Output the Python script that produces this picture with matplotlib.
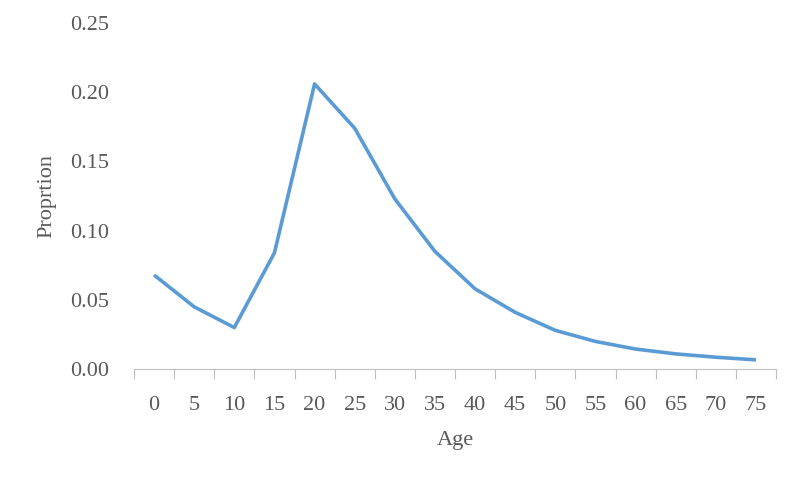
import matplotlib
matplotlib.use("Agg")
import matplotlib.pyplot as plt
import numpy as np

ages = [0, 5, 10, 15, 20, 25, 30, 35, 40, 45, 50, 55, 60, 65, 70, 75]
proportion = [0.068, 0.045, 0.030, 0.084, 0.206, 0.174, 0.123, 0.085, 0.058,
              0.041, 0.028, 0.020, 0.0145, 0.011, 0.0086, 0.0067]
yticks = [0.00, 0.05, 0.10, 0.15, 0.20, 0.25]

plt.rcParams['font.family'] = ['Liberation Serif', 'DejaVu Serif']
txt = '#595959'

fig = plt.figure(figsize=(8, 4.8), dpi=100)
ax = fig.add_axes([0.1675, 0.231, 0.8025, 0.721])
ax.plot(ages, proportion, color='#5B9BD5', lw=2.6, solid_joinstyle='round', solid_capstyle='butt')

ax.set_xlim(-2.5, 77.5)
ax.set_ylim(0, 0.25)
ax.set_yticks(yticks)
ax.set_yticklabels([f"{v:.2f}" for v in yticks])
ax.set_xticks(ages)
ax.set_xticklabels([str(a) for a in ages])
ax.set_xticks([a - 2.5 for a in ages] + [77.5], minor=True)
ax.tick_params(axis='x', which='major', length=0, pad=19, labelsize=16, labelcolor=txt)
ax.tick_params(axis='x', which='minor', length=7, width=0.8, color='#BFBFBF', direction='out')
ax.tick_params(axis='y', length=0, pad=18, labelsize=16, labelcolor=txt)

for s in ['top', 'right', 'left']:
    ax.spines[s].set_visible(False)
ax.spines['bottom'].set_color('#BFBFBF')
ax.spines['bottom'].set_linewidth(0.8)

ax.set_xlabel('Age', fontsize=16, color=txt, labelpad=12)
ax.set_ylabel('Proprtion', fontsize=16, color=txt, labelpad=10)

fig.savefig('out.png', dpi=100)
